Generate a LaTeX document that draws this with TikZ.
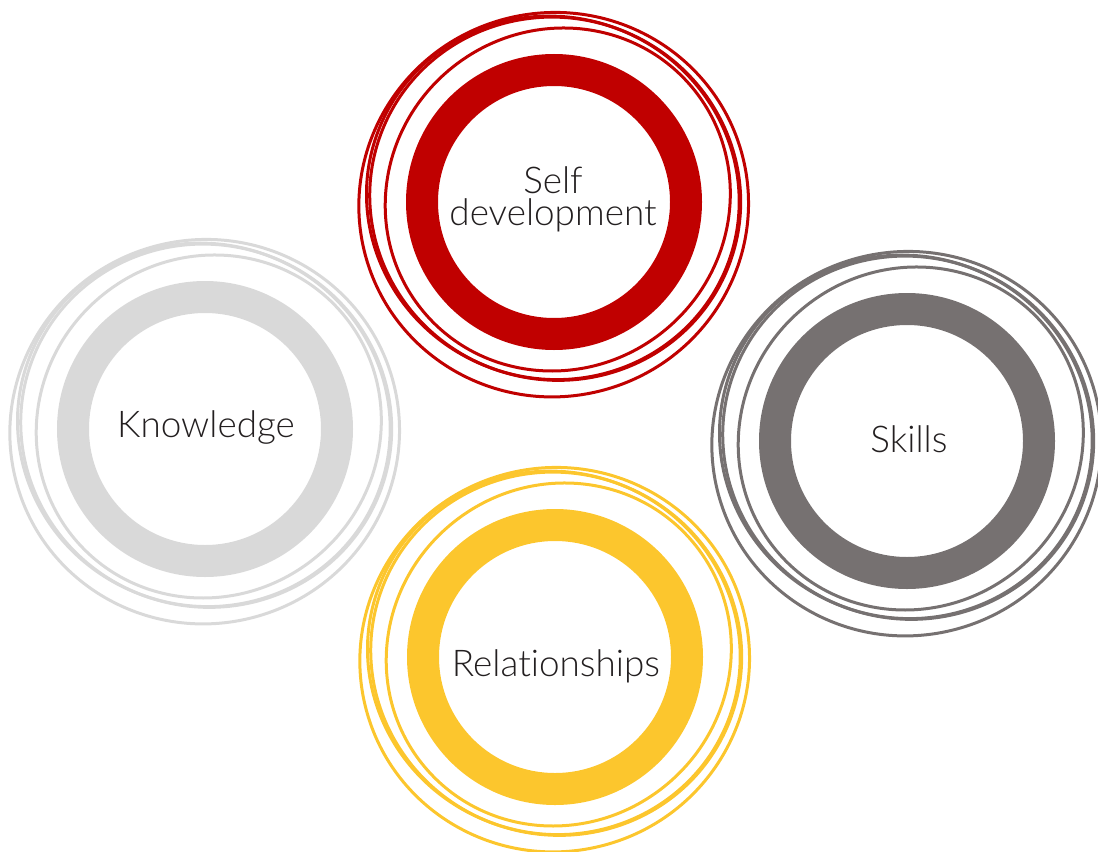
\documentclass[tikz,border=0pt]{standalone}
\usepackage{fontspec}
\setmainfont{Lato Light}[Ligatures=NoCommon]
\definecolor{cred}{RGB}{192,0,0}
\definecolor{clgray}{RGB}{217,217,217}
\definecolor{cdgray}{RGB}{118,113,113}
\definecolor{cyellow}{RGB}{252,198,45}
\definecolor{ctext}{RGB}{35,31,32}
\tikzset{
  thickring/.style={line width=32bp},
  thinring/.style={line width=3bp},
  lbl/.style={text=ctext, font=\fontsize{37}{32}\selectfont, inner sep=0pt, align=center},
}
\newcommand{\scribble}[3]{%
  \draw[thinring,#3,rotate around={15:(#1,#2)}] (#1-1,#2+2.5) ellipse [x radius=195, y radius=192];
  \draw[thinring,#3,rotate around={-20:(#1,#2)}] (#1,#2-3.5) ellipse [x radius=186, y radius=181];
  \draw[thinring,#3,rotate around={40:(#1,#2)}] (#1+4.5,#2+0.5) ellipse [x radius=175, y radius=169];
  \draw[thinring,#3,rotate around={70:(#1,#2)}] (#1+3.5,#2-2.5) ellipse [x radius=181, y radius=187];
  \draw[thickring,#3] (#1,#2) circle (132);
}
\begin{document}
\begin{tikzpicture}[x=1bp,y=-1bp]
\useasboundingbox (0,0) rectangle (1098,852);
\scribble{554}{202}{cred}
\scribble{205}{429}{clgray}
\scribble{907}{441}{cdgray}
\scribble{555}{657}{cyellow}
\node[lbl] (sd) at (553,199) {Self\\development};
\node[lbl, anchor=base] (know) at (206,437) {Knowledge};
\node[lbl, anchor=base] (skills) at (909,452) {Skills};
\node[lbl, anchor=base] (rel) at (556,676) {Relat\kern0pt ionships};
\end{tikzpicture}
\end{document}
